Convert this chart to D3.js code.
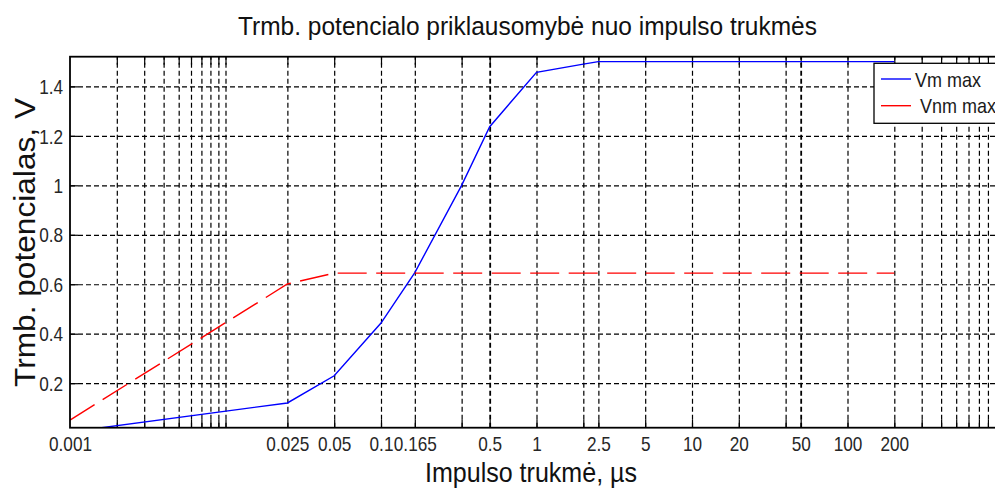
<!DOCTYPE html>
<html>
<head>
<meta charset="utf-8">
<script src="https://cdn.jsdelivr.net/npm/d3@7"></script>
<style>
  body { margin: 0; background: #fff; }
  text { font-family: "Liberation Sans", Arial, sans-serif; }
</style>
</head>
<body>
<svg id="chart" width="995" height="488"></svg>
<script>
"use strict";

// data (impulse duration in us, potential in V)
const x_values = [0.001, 0.025, 0.05, 0.1, 0.165, 0.33, 0.5, 1, 2, 2.5, 5, 10, 20, 40, 50, 100, 200];
const vm_max = [0.003, 0.12, 0.23, 0.443, 0.647, 1.0, 1.237, 1.457, 1.49, 1.5, 1.5, 1.5, 1.5, 1.5, 1.5, 1.5, 1.5];
const vnm_max = [0.051, 0.601, 0.645, 0.645, 0.645, 0.645, 0.645, 0.645, 0.645, 0.645, 0.645, 0.645, 0.645, 0.645, 0.645, 0.645, 0.645];

// ticks
const x_tick_values = [0.001, 0.025, 0.05, 0.1, 0.165, 0.5, 1, 2.5, 5, 10, 20, 50, 100, 200];
const x_tick_labels = ["0.001", "0.025", "0.05", "0.1", "0.165", "0.5", "1", "2.5", "5", "10", "20", "50", "100", "200"];
const x_grid_values = [0.002, 0.003, 0.004, 0.005, 0.006, 0.007, 0.008, 0.009, 0.01,
  0.025, 0.05, 0.1, 0.165, 0.33, 0.5, 1, 2, 2.5, 5, 10, 20, 40, 50, 100, 200,
  300, 400, 500, 600, 700, 800, 900];
const y_tick_values = [0.2, 0.4, 0.6, 0.8, 1, 1.2, 1.4];
const y_tick_labels = ["0.2", "0.4", "0.6", "0.8", "1", "1.2", "1.4"];

const series = [
  { name: "Vm max", values: vm_max, color: "#0000ff", dash: null },
  { name: "Vnm max", values: vnm_max, color: "#ff0000", dash: "29,9.5" }
];

// layout
const p = {
  left: 70,
  right: 1003,
  top: 56.7,
  bottom: 427.7,
  squeeze: 0.86   // horizontal squeeze of the narrow matlab font
};

const svg = d3.select("#chart");

const x = d3.scaleLog().domain([0.001, 1000]).range([p.left, p.right]);
const y = d3.scaleLinear().domain([0.02, 1.52]).range([p.bottom, p.top]);

const plot_h = p.bottom - p.top;
const plot_w = p.right - p.left;

svg.append("rect").attr("width", 995).attr("height", 488).attr("fill", "#fff");

// grid, vertical
const gx = svg.append("g")
  .attr("transform", `translate(0,${p.bottom})`)
  .call(d3.axisBottom(x).tickValues(x_grid_values).tickSize(-plot_h).tickFormat(""));
gx.select(".domain").remove();
gx.selectAll(".tick line")
  .attr("stroke", "#000")
  .attr("stroke-width", d => (d === 0.5 || d === 50) ? 1.8 : 1.2)
  .attr("stroke-dasharray", "5,3");

// grid, horizontal
const gy = svg.append("g")
  .attr("transform", `translate(${p.left},0)`)
  .call(d3.axisLeft(y).tickValues(y_tick_values).tickSize(-plot_w).tickFormat(""));
gy.select(".domain").remove();
gy.selectAll(".tick line")
  .attr("stroke", "#000")
  .attr("stroke-width", 1.2)
  .attr("stroke-dasharray", "5,3");

// solid tick marks inside the box
const tick_len = 8;
const xb = svg.append("g")
  .attr("transform", `translate(0,${p.bottom})`)
  .call(d3.axisBottom(x).tickValues(x_grid_values).tickSize(-tick_len).tickFormat(""));
xb.select(".domain").remove();
const xt = svg.append("g")
  .attr("transform", `translate(0,${p.top})`)
  .call(d3.axisTop(x).tickValues(x_grid_values).tickSize(-tick_len).tickFormat(""));
xt.select(".domain").remove();
const yl = svg.append("g")
  .attr("transform", `translate(${p.left},0)`)
  .call(d3.axisLeft(y).tickValues(y_tick_values).tickSize(-tick_len).tickFormat(""));
yl.select(".domain").remove();
svg.selectAll(".tick line").filter(function () { return !this.hasAttribute("stroke-dasharray"); })
  .attr("stroke", "#000").attr("stroke-width", 1.2);

// tick labels
const xl = svg.append("g")
  .attr("transform", `translate(0,${p.bottom})`)
  .call(d3.axisBottom(x).tickValues(x_tick_values).tickSize(0).tickPadding(9)
    .tickFormat((d, i) => x_tick_labels[i]));
xl.select(".domain").remove();
xl.selectAll("text")
  .attr("font-size", 20)
  .attr("font-family", "Liberation Sans, Arial, sans-serif")
  .attr("fill", "#262626")
  .attr("transform", `scale(${p.squeeze},1)`);

const ylab = svg.append("g")
  .attr("transform", `translate(${p.left},0)`)
  .call(d3.axisLeft(y).tickValues(y_tick_values).tickSize(0).tickPadding(8)
    .tickFormat((d, i) => y_tick_labels[i]));
ylab.select(".domain").remove();
ylab.selectAll("text")
  .attr("font-size", 20)
  .attr("font-family", "Liberation Sans, Arial, sans-serif")
  .attr("fill", "#262626")
  .attr("dy", "0.36em")
  .attr("transform", `scale(${p.squeeze},1)`);

// lines, clipped to the axes box
svg.append("clipPath").attr("id", "clip")
  .append("rect")
  .attr("x", p.left).attr("y", p.top)
  .attr("width", plot_w).attr("height", plot_h);

const line = d3.line()
  .x((d, i) => x(x_values[i]))
  .y(d => y(d));

svg.append("g")
  .attr("clip-path", "url(#clip)")
  .selectAll("path")
  .data(series)
  .join("path")
  .attr("d", d => line(d.values))
  .attr("fill", "none")
  .attr("stroke", d => d.color)
  .attr("stroke-width", 1.4)
  .attr("stroke-dasharray", d => d.dash);

// axes box
svg.append("rect")
  .attr("x", p.left).attr("y", p.top)
  .attr("width", plot_w).attr("height", plot_h)
  .attr("fill", "none")
  .attr("stroke", "#000")
  .attr("stroke-width", 1.8);

// legend
const lg = svg.append("g");
lg.append("rect")
  .attr("x", 874).attr("y", 63.3)
  .attr("width", 140).attr("height", 60)
  .attr("fill", "#fff")
  .attr("stroke", "#000")
  .attr("stroke-width", 1.3);
series.forEach(function (d, i) {
  const ly = 79 + i * 26.7;
  lg.append("line")
    .attr("x1", 881).attr("x2", 911)
    .attr("y1", ly).attr("y2", ly)
    .attr("stroke", d.color)
    .attr("stroke-width", 1.4);
  lg.append("text")
    .text(d.name)
    .attr("x", 0).attr("y", 0)
    .attr("transform", `translate(${i === 0 ? 915 : 920},${ly + 7.5}) scale(0.9,1)`)
    .attr("font-size", 20)
    .attr("fill", "#1a1a1a");
});

// titles
svg.append("text")
  .text("Trmb. potencialo priklausomybė nuo impulso trukmės")
  .attr("x", 527.5).attr("y", 35)
  .attr("text-anchor", "middle")
  .attr("font-size", 25)
  .attr("textLength", 579)
  .attr("lengthAdjust", "spacingAndGlyphs")
  .attr("fill", "#111");

svg.append("text")
  .text("Impulso trukmė, µs")
  .attr("x", 531).attr("y", 482)
  .attr("text-anchor", "middle")
  .attr("font-size", 28)
  .attr("textLength", 212)
  .attr("lengthAdjust", "spacingAndGlyphs")
  .attr("fill", "#111");

svg.append("text")
  .text("Trmb. potencialas, V")
  .attr("transform", "translate(35,242.5) rotate(-90)")
  .attr("text-anchor", "middle")
  .attr("font-size", 29)
  .attr("textLength", 289)
  .attr("lengthAdjust", "spacingAndGlyphs")
  .attr("fill", "#111");
</script>
</body>
</html>
